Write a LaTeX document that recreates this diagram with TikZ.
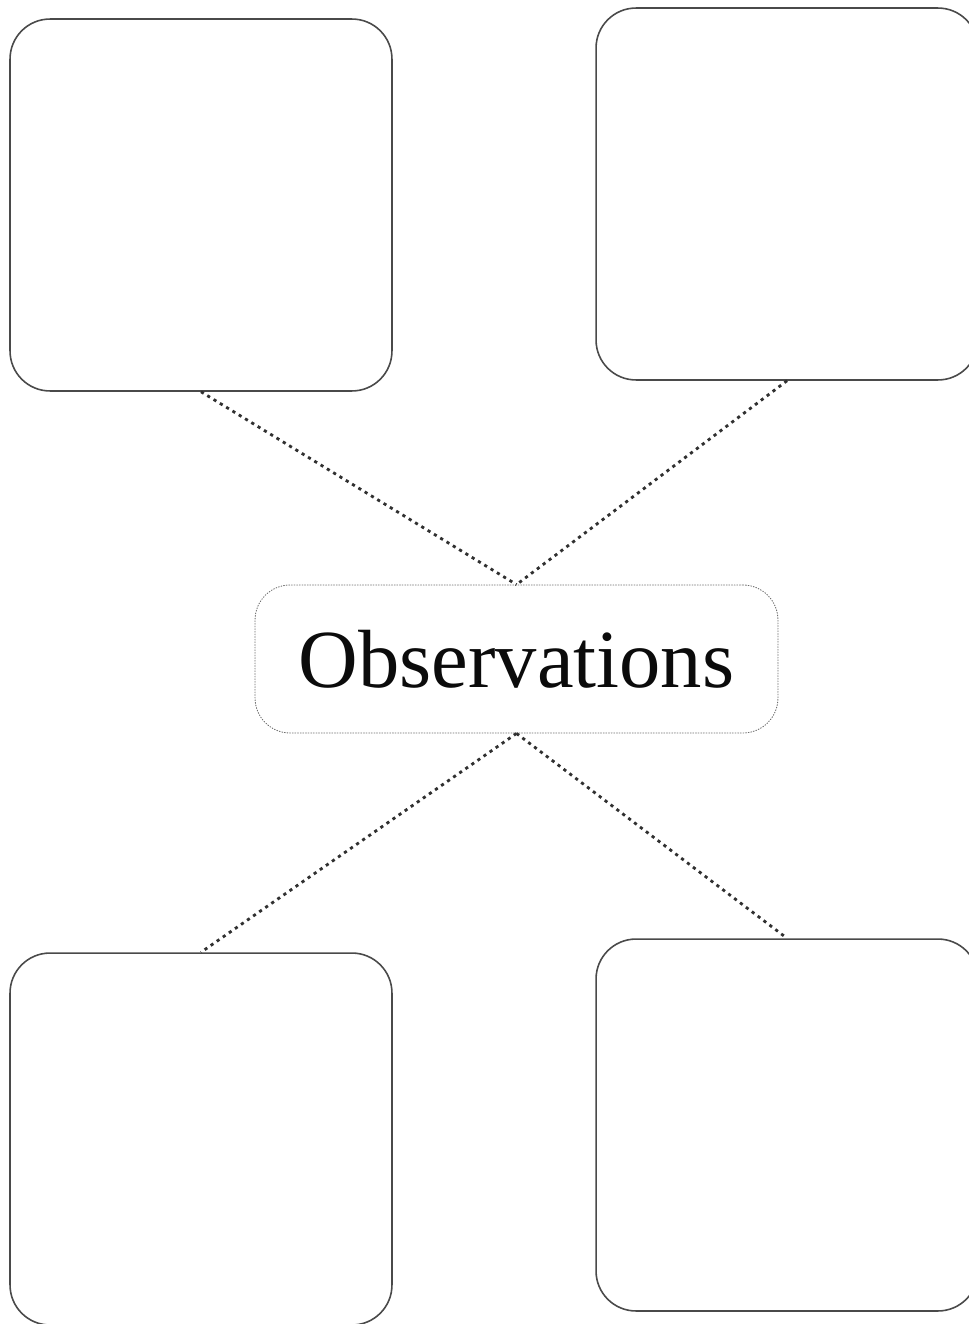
\documentclass[tikz,border=0pt]{standalone}
\usepackage{fontspec}
\setmainfont{Liberation Serif}
\usetikzlibrary{positioning}
\definecolor{ink}{HTML}{0B0B0B}
\definecolor{ink2}{HTML}{4A4A4A}
\definecolor{ink3}{HTML}{6E6E6E}
\tikzset{
  every picture/.style={line cap=round, line join=round},
  card/.style={draw=ink2, fill=white, rounded corners=0.8cm, line width=0.9pt,
    minimum width=7.64cm, minimum height=7.44cm, inner sep=0pt},
  hub/.style={draw=ink3, fill=white, rounded corners=0.7cm, densely dotted, line width=0.5pt,
    minimum width=10.46cm, minimum height=2.96cm, inner sep=0pt, text=ink,
    font=\fontsize{47}{50}\selectfont},
  link/.style={draw=ink!85, line cap=butt, dash pattern=on 1.8pt off 2.4pt, line width=1.6pt},
}

\begin{document}
\begin{tikzpicture}[x=0.02cm, y=-0.02cm]
  \useasboundingbox (0,0) rectangle (969,1324);
  % ======================= centre =======================
  \node[hub] (obs) at (516.5,659) {Observations};
  % ======================= four empty cards =======================
  \node[card] (tl) at (201,205) {};
  \node[card] (tr) at (787,194) {};
  \node[card] (bl) at (201,1139) {};
  \node[card] (br) at (787,1125) {};
  % ======================= links =======================
  \draw[link] (tl.south) -- (obs.north);
  \draw[link] (tr.south) -- (obs.north);
  \draw[link] (obs.south) -- (bl.north);
  \draw[link] (obs.south) -- (br.north);
\end{tikzpicture}
\end{document}
